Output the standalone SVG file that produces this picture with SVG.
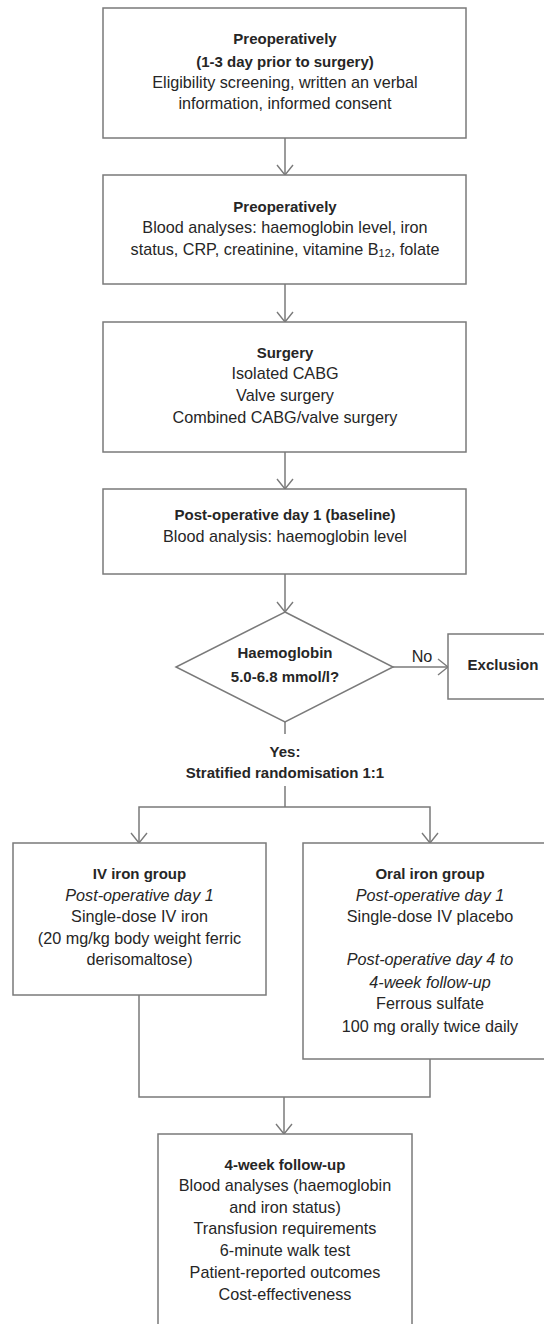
<svg xmlns="http://www.w3.org/2000/svg" width="544" height="1324" viewBox="0 0 544 1324">
<style>
.box{fill:#fff;stroke:#7a7a7a;stroke-width:1.5}
.ln{fill:none;stroke:#7a7a7a;stroke-width:1.5}
text{font-family:"Liberation Sans",Arial,sans-serif;font-size:16.2px;fill:#262626;text-anchor:middle}
.b{font-weight:bold;font-size:15px}
.i{font-style:italic}
</style>
<defs>
<marker id="ah" markerUnits="userSpaceOnUse" viewBox="-11 -9 12 18" markerWidth="12" markerHeight="18" refX="0" refY="0" orient="auto">
<path d="M-10,-8 L0,0 L-10,8" fill="none" stroke="#7a7a7a" stroke-width="1.4"/>
</marker>
</defs>
<rect width="544" height="1324" fill="#fff"/>
<g id="connectors">
<line class="ln" x1="285" y1="138" x2="285" y2="175" marker-end="url(#ah)"/>
<line class="ln" x1="285" y1="284" x2="285" y2="322" marker-end="url(#ah)"/>
<line class="ln" x1="285" y1="452" x2="285" y2="489" marker-end="url(#ah)"/>
<line class="ln" x1="285" y1="574" x2="285" y2="612" marker-end="url(#ah)"/>
<line class="ln" x1="393" y1="667" x2="448" y2="667" marker-end="url(#ah)"/>
<line class="ln" x1="285" y1="722" x2="285" y2="734"/>
<line class="ln" x1="285" y1="786" x2="285" y2="807"/>
<polyline class="ln" points="285,807 139,807 139,843" marker-end="url(#ah)"/>
<polyline class="ln" points="285,807 430,807 430,843" marker-end="url(#ah)"/>
<polyline class="ln" points="139,995 139,1097 430,1097 430,1059"/>
<line class="ln" x1="284" y1="1097" x2="284" y2="1134" marker-end="url(#ah)"/>
<text x="422" y="662">No</text>
<text class="b" x="285" y="757">Yes:</text>
<text class="b" x="285" y="778">Stratified randomisation 1:1</text>
</g>
<g id="n1">
<rect class="box" x="103" y="8" width="363" height="130"/>
<text class="b" x="285" y="44">Preoperatively</text>
<text class="b" x="285" y="67">(1-3 day prior to surgery)</text>
<text x="285" y="88">Eligibility screening, written an verbal</text>
<text x="285" y="109">information, informed consent</text>
</g>
<g id="n2">
<rect class="box" x="103" y="175" width="363" height="109"/>
<text class="b" x="285" y="212">Preoperatively</text>
<text x="285" y="233">Blood analyses: haemoglobin level, iron</text>
<text x="285" y="255">status, CRP, creatinine, vitamine B<tspan font-size="11" dy="2">12</tspan><tspan dy="-2">, folate</tspan></text>
</g>
<g id="n3">
<rect class="box" x="103" y="322" width="363" height="130"/>
<text class="b" x="285" y="358">Surgery</text>
<text x="285" y="379">Isolated CABG</text>
<text x="285" y="401">Valve surgery</text>
<text x="285" y="423">Combined CABG/valve surgery</text>
</g>
<g id="n4">
<rect class="box" x="103" y="489" width="363" height="85"/>
<text class="b" x="285" y="520">Post-operative day 1 (baseline)</text>
<text x="285" y="542">Blood analysis: haemoglobin level</text>
</g>
<g id="n5">
<polygon class="box" points="285,612 393,667 285,722 176,667"/>
<text class="b" x="285" y="658">Haemoglobin</text>
<text class="b" x="285" y="682">5.0-6.8 mmol/l?</text>
</g>
<g id="n6">
<rect class="box" x="448" y="634" width="110" height="65"/>
<text class="b" x="503" y="670">Exclusion</text>
</g>
<g id="n7">
<rect class="box" x="13" y="843" width="253" height="152"/>
<text class="b" x="139.5" y="879">IV iron group</text>
<text class="i" x="139.5" y="901">Post-operative day 1</text>
<text x="139.5" y="922">Single-dose IV iron</text>
<text x="139.5" y="944">(20 mg/kg body weight ferric</text>
<text x="139.5" y="965">derisomaltose)</text>
</g>
<g id="n8">
<rect class="box" x="303" y="843" width="254" height="216"/>
<text class="b" x="430" y="879">Oral iron group</text>
<text class="i" x="430" y="901">Post-operative day 1</text>
<text x="430" y="922">Single-dose IV placebo</text>
<text class="i" x="430" y="965">Post-operative day 4 to</text>
<text class="i" x="430" y="988">4-week follow-up</text>
<text x="430" y="1009">Ferrous sulfate</text>
<text x="430" y="1032">100 mg orally twice daily</text>
</g>
<g id="n9">
<rect class="box" x="158" y="1134" width="254" height="200"/>
<text class="b" x="285" y="1170">4-week follow-up</text>
<text x="285" y="1191">Blood analyses (haemoglobin</text>
<text x="285" y="1213">and iron status)</text>
<text x="285" y="1234">Transfusion requirements</text>
<text x="285" y="1256">6-minute walk test</text>
<text x="285" y="1278">Patient-reported outcomes</text>
<text x="285" y="1300">Cost-effectiveness</text>
</g>
</svg>
